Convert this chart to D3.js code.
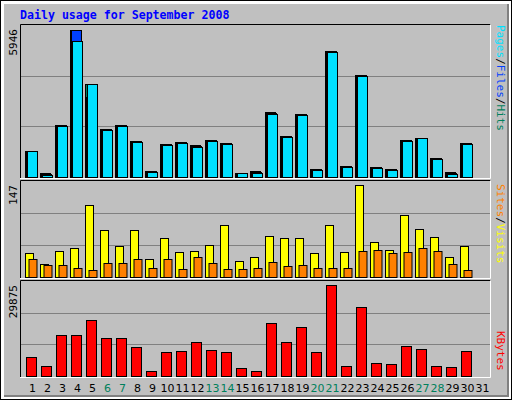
<!DOCTYPE html>
<html lang="en">
<head>
<meta charset="utf-8">
<script src="https://d3js.org/d3.v7.min.js"></script>
<style>body{margin:0;background:#fff}</style>
</head>
<body>
<script>
// day labels and series
var days = d3.range(1, 32);
var weekends = [6, 7, 13, 14, 20, 21, 27, 28];
var hits  = [1030,170,2047,5764,3651,1891,2047,1421,248,1304,1382,1265,1460,1343,170,248,2556,1617,2478,326,4942,443,4003,404,326,1460,1539,756,209,1343,0];
var files = [1030,130,2030,5764,3143,1870,2030,1400,230,1285,1360,1230,1440,1325,170,210,2520,1600,2460,306,4920,424,3985,385,306,1440,1539,736,170,1325,0];
var pages = [1030,91,2008,5333,3651,1852,2008,1382,209,1265,1343,1187,1421,1304,170,170,2478,1578,2439,287,4903,404,3964,365,287,1421,1539,717,130,1304,0];
var visits = [37,20,40,45,111,72,48,72,27,59,39,40,49,80,25,31,63,59,59,36,80,39,141,53,42,95,74,62,30,48,0];
var sites  = [28,19,19,14,11,22,22,27,14,27,13,30,22,13,13,14,23,17,19,14,14,14,40,42,36,39,45,40,20,11,0];
var kbytes = [6080,3250,12995,12995,17710,12050,12050,9220,1680,7650,7965,10795,8280,7650,2620,1680,16770,10795,15510,7650,28715,3250,21800,4190,3880,9540,8590,3250,2935,7965,0];
var maxHits = 5946, maxVisits = 147, maxKB = 29875;

var W = 512, H = 400;
var svg = d3.select("body").append("svg").attr("width", W).attr("height", H)
  .style("font-family", "DejaVu Sans Mono, monospace");

// frame
svg.append("rect").attr("x", 0).attr("y", 0).attr("width", W).attr("height", H).attr("fill", "#000");
svg.append("rect").attr("x", 1).attr("y", 1).attr("width", W - 2).attr("height", H - 2).attr("fill", "#fff");
svg.append("rect").attr("x", 4).attr("y", 4).attr("width", W - 8).attr("height", H - 8).attr("fill", "#c0c0c0");
svg.append("path").attr("d", "M4,396H508V4").attr("stroke", "#808080").attr("stroke-width", 2).attr("fill", "none");

svg.append("text").attr("x", 20).attr("y", 19).attr("fill", "#0000ff")
  .attr("font-weight", "bold").attr("font-size", 11.6).text("Daily usage for September 2008");

var x = d3.scaleBand().domain(days).range([22, 487]).padding(0);

var yTop = d3.scaleLinear().domain([0, maxHits]).range([177, 25]);
var yMid = d3.scaleLinear().domain([0, maxVisits]).range([277, 181]);
var yBot = d3.scaleLinear().domain([0, maxKB]).range([376, 281]);

function panel(y, max) {
  var r = y.range();
  var g = svg.append("g");
  g.append("rect").attr("x", 20).attr("y", r[1]).attr("width", 470).attr("height", r[0] - r[1] + 1)
    .attr("fill", "#c0c0c0");
  [max / 3, max * 2 / 3].forEach(function (v) {
    g.append("line").attr("x1", 20).attr("x2", 490).attr("y1", Math.round(y(v)) + 0.5).attr("y2", Math.round(y(v)) + 0.5)
      .attr("stroke", "#808080");
  });
  g.append("path").attr("d", "M20.5," + (r[0] + 1) + "V" + (r[1] - 0.5) + "H490.5")
    .attr("stroke", "#000").attr("fill", "none");
  g.append("path").attr("d", "M20," + (r[0] + 1.5) + "H490.5V" + (r[1] - 0.5))
    .attr("stroke", "#fff").attr("fill", "none");
  var cy = r[1] + 4;
  g.append("text").attr("transform", "translate(17," + cy + ") rotate(-90)")
    .attr("text-anchor", "end").attr("font-size", 11).attr("fill", "#000").text(max);
  return g;
}

function bars(g, data, y, dx, w, color) {
  g.selectAll(null).data(days.filter(function (d, i) { return data[i] > 0; })).join("rect")
    .attr("x", function (d) { return x(d) + dx + 0.5; })
    .attr("y", function (d) { return Math.round(y(data[d - 1])) + 0.5; })
    .attr("width", w)
    .attr("height", function (d) { return y(0) - Math.round(y(data[d - 1])); })
    .attr("fill", color).attr("stroke", "#000");
}

var g1 = panel(yTop, maxHits);
bars(g1, hits, yTop, 3, 10, "#00805c");
bars(g1, files, yTop, 4, 10, "#0040ff");
bars(g1, pages, yTop, 5, 10, "#00e0ff");

var g2 = panel(yMid, maxVisits);
bars(g2, visits, yMid, 3, 8, "#ffff00");
bars(g2, sites, yMid, 6.5, 8, "#ff8000");

var g3 = panel(yBot, maxKB);
bars(g3, kbytes, yBot, 4, 10, "#ff0000");

// right-side legends
function legend(cx, cy, parts) {
  var t = svg.append("text").attr("transform", "translate(" + cx + "," + cy + ") rotate(90)")
    .attr("font-size", 11).attr("text-anchor", "end");
  parts.forEach(function (p) { t.append("tspan").attr("fill", p[1]).text(p[0]); });
}
legend(497, 25, [["Pages", "#00e0ff"], ["/", "#000"], ["Files", "#0040ff"], ["/", "#000"], ["Hits", "#00805c"]]);
legend(497, 184, [["Sites", "#ff8000"], ["/", "#000"], ["Visits", "#ffff00"]]);
legend(497, 331, [["KBytes", "#ff0000"]]);
svg.selectAll("text[transform*='rotate(90)']").attr("text-anchor", "start");

// day labels
svg.selectAll(".day").data(days).join("text").attr("class", "day")
  .attr("x", function (d) { return x(d) + x.bandwidth() / 2 + 3; })
  .attr("y", 392).attr("text-anchor", "middle").attr("font-size", 11)
  .attr("font-family", "DejaVu Sans, sans-serif")
  .attr("fill", function (d) { return weekends.indexOf(d) >= 0 ? "#00805c" : "#000"; })
  .text(function (d) { return d; });
</script>
</body>
</html>
